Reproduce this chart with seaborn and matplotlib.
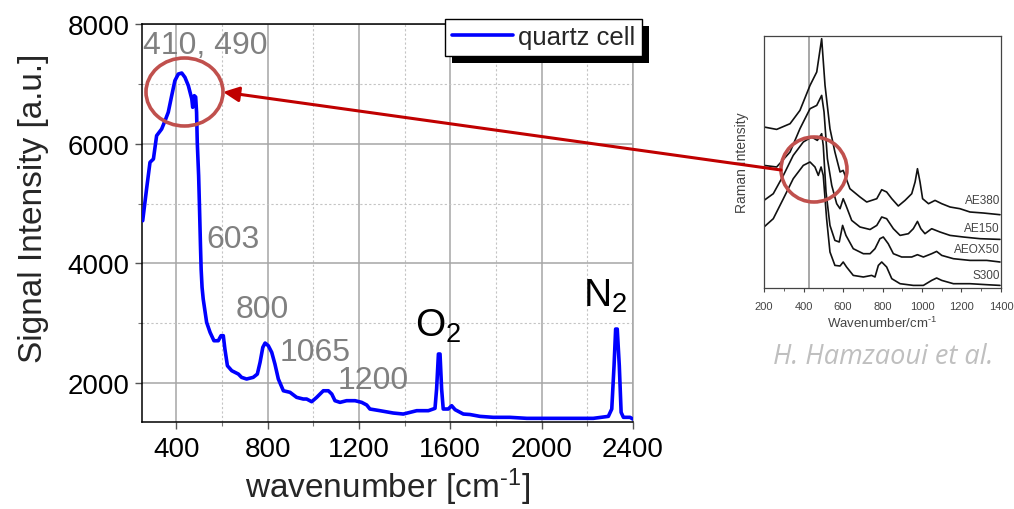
import numpy as np
import pandas as pd
import matplotlib
matplotlib.use("Agg")
import matplotlib.pyplot as plt
import seaborn as sns
from matplotlib.patches import Ellipse, FancyArrowPatch
import matplotlib.patheffects as pe
from matplotlib.ticker import MultipleLocator

sns.set_style("white")
plt.rcParams['font.family'] = ['Liberation Sans', 'DejaVu Sans']
plt.rcParams['mathtext.fontset'] = 'custom'
plt.rcParams['mathtext.rm'] = 'Liberation Sans'
plt.rcParams['mathtext.it'] = 'Liberation Sans:italic'
plt.rcParams['mathtext.bf'] = 'Liberation Sans:bold'
plt.rcParams['mathtext.sf'] = 'Liberation Sans'
plt.rcParams['mathtext.default'] = 'regular'

# ---------------- main spectrum (quartz cell) ----------------
wavenumber = [253, 270, 285, 300, 314, 336, 351, 365, 380, 394, 409, 424, 438, 453,
              468, 472, 479, 485, 489, 492, 498, 502, 506, 509, 513, 518, 533, 548,
              565, 584, 596, 606, 613, 624, 643, 672, 686, 708, 737, 755, 767, 779,
              789, 803, 818, 832, 847, 869, 898, 927, 956, 971, 993, 1015, 1044, 1066,
              1081, 1095, 1117, 1146, 1183, 1212, 1234, 1248, 1292, 1350, 1394, 1453,
              1504, 1533, 1540, 1548, 1555, 1562, 1569, 1591, 1606, 1621, 1657, 1686,
              1730, 1788, 1861, 1935, 2080, 2226, 2292, 2307, 2317, 2324, 2331, 2340,
              2348, 2358, 2387, 2399]
intensity = [4713, 5243, 5689, 5744, 6134, 6245, 6385, 6525, 6802, 7053, 7164, 7181, 7109, 6969,
             6747, 6608, 6802, 6780, 6525, 6023, 5465, 4900, 4300, 3900, 3600, 3405, 3015, 2848,
             2708, 2708, 2792, 2792, 2569, 2290, 2207, 2151, 2096, 2068, 2096, 2151, 2347, 2597,
             2669, 2625, 2514, 2319, 2068, 1872, 1846, 1762, 1734, 1734, 1689, 1762, 1872, 1872,
             1817, 1706, 1678, 1706, 1706, 1678, 1634, 1567, 1539, 1500, 1483, 1539,
             1539, 1578, 1901, 2486, 2486, 1901, 1567, 1567, 1622, 1556, 1483, 1475,
             1444, 1428, 1428, 1411, 1411, 1411, 1444, 1567, 2290, 2903, 2903, 2290,
             1511, 1428, 1428, 1400]
series_name = "quartz cell"
peak_labels = ["410, 490", "603", "800", "1065", "1200"]
gas_labels = ["O$_2$", "N$_2$"]
x_ticks = [400, 800, 1200, 1600, 2000, 2400]
y_ticks = [2000, 4000, 6000, 8000]

# ---------------- literature inset (H. Hamzaoui et al.) ----------------
ae380_x = [200, 264, 332, 382, 433, 467, 492, 509, 534, 559, 585, 601, 635, 686, 720,
           771, 796, 821, 847, 880, 914, 948, 965, 977, 990, 1003, 1033, 1066, 1100,
           1142, 1192, 1243, 1310, 1395]
ae380_y = [161, 158.6, 164.3, 177.6, 202.6, 216, 249.3, 202.6, 159.3, 136, 116, 117.6, 99.3, 91, 86,
           89.3, 98.3, 96, 89.3, 82, 87.6, 94.3, 106, 119.3, 106, 89.3, 84.3, 87.6, 84.3,
           81, 79.3, 76, 75, 73.3]
ae150_x = [200, 264, 332, 382, 433, 467, 492, 504, 521, 543, 568, 585, 601, 615, 644, 686,
           737, 771, 796, 821, 855, 889, 931, 956, 977, 994, 1015, 1049, 1091, 1142,
           1209, 1294, 1395]
ae150_y = [122.6, 121, 136, 159.3, 179.3, 182.6, 192.6, 176, 129.3, 102.6, 84.3, 79.3, 89.3, 82.6, 67.6, 61,
           58.5, 62.6, 71, 69.3, 59.3, 52.6, 54.3, 59.3, 66.6, 59.3, 54.3, 59.3, 56, 52.6,
           51, 49.3, 48.6]
aeox50_x = [200, 247, 298, 348, 399, 441, 470, 492, 500, 514, 534, 559, 581, 598, 615, 652,
            703, 737, 762, 787, 804, 829, 855, 897, 948, 977, 1007, 1049, 1074, 1100,
            1159, 1243, 1328, 1395]
aeox50_y = [87.6, 94.3, 112.6, 132.6, 146, 151, 147.6, 154.3, 142.6, 96, 62.6, 47.6, 46, 62.6, 52.6, 39.3,
            34.3, 34.3, 39.3, 49.3, 51, 44.3, 34.3, 31, 31, 33.3, 31, 34.3, 36.6, 32.6,
            29.3, 27.6, 27.6, 26]
s300_x = [200, 247, 298, 348, 399, 433, 458, 475, 489, 500, 517, 534, 559, 585, 601, 618,
          652, 703, 745, 762, 779, 796, 821, 847, 889, 956, 1007, 1049, 1074, 1100,
          1159, 1243, 1328, 1395]
s300_y = [61, 69.3, 89.3, 109.3, 122.6, 126, 121, 112.6, 121, 112.6, 69.3, 36, 22.6, 22, 26, 21,
          12.6, 11, 12.6, 11, 22.6, 26, 21, 9.3, 4.3, 2.6, 2.6, 7.6, 10, 7.6,
          4.3, 4.3, 3.3, 2.6]
inset_names = ["AE380", "AE150", "AEOX50", "S300"]
inset_marker_line = 430
inset_ticks = [200, 400, 600, 800, 1000, 1200, 1400]

inset_df = pd.concat([
    pd.DataFrame({"wn": ae380_x, "I": ae380_y, "sample": "AE380"}),
    pd.DataFrame({"wn": ae150_x, "I": ae150_y, "sample": "AE150"}),
    pd.DataFrame({"wn": aeox50_x, "I": aeox50_y, "sample": "AEOX50"}),
    pd.DataFrame({"wn": s300_x, "I": s300_y, "sample": "S300"}),
], ignore_index=True)

W, H = 1014, 510
fig = plt.figure(figsize=(W / 100, H / 100), dpi=100)
fig.patch.set_facecolor("white")

# ---------------- main axes ----------------
ax = fig.add_axes([142 / W, 1 - 423 / H, (633 - 142) / W, (423 - 25) / H])
ax.set_xlim(250, 2400)
ax.set_ylim(1350, 8000)
ax.xaxis.set_major_locator(MultipleLocator(400))
ax.xaxis.set_minor_locator(MultipleLocator(200))
ax.yaxis.set_major_locator(MultipleLocator(2000))
ax.yaxis.set_minor_locator(MultipleLocator(1000))
ax.set_xticks(x_ticks)
ax.set_yticks(y_ticks)
ax.grid(which="major", color="#a6a6a6", lw=1.1, ls="-")
ax.grid(which="minor", color="#c4c4c4", lw=0.8, ls=(0, (2, 2)))
ax.set_axisbelow(True)

sns.lineplot(x=wavenumber, y=intensity, ax=ax, color="#0000ff", lw=2.6,
             label=series_name, sort=False, estimator=None, zorder=3)

for s in ["left", "bottom", "top"]:
    ax.spines[s].set_color("black")
    ax.spines[s].set_linewidth(1.1)
ax.spines["right"].set_color("#a6a6a6")
ax.spines["right"].set_linewidth(1.1)
ax.tick_params(axis="both", which="major", direction="out", length=5, width=1,
               color="#555555", labelsize=20, labelcolor="black")
ax.tick_params(axis="x", which="major", pad=5)
ax.tick_params(axis="y", which="major", pad=4)
ax.tick_params(axis="both", which="minor", direction="out", length=3, width=0.8,
               color="#777777")
ax.tick_params(left=True, bottom=True, which="both")
ax.set_xlabel("wavenumber [cm$^{\\text{-1}}$]", fontsize=24)
ax.set_ylabel("Signal Intensity [a.u.]", fontsize=24)
ax.xaxis.set_label_coords(0.5, -0.11)
ax.yaxis.set_label_coords(-0.19, 0.54)

gray = "#808080"
pos_peaks = [(256, 7649), (530, 4407), (662, 3238), (854, 2519), (1108, 2051)]
for lab, (px, py) in zip(peak_labels, pos_peaks):
    ax.text(px, py, lab, color=gray, fontsize=23, ha="left", va="center", zorder=4)
for lab, (px, py) in zip(gas_labels, [(1445, 2787), (2180, 3288)]):
    ax.text(px, py, lab, color="black", fontsize=28, ha="left", va="baseline", zorder=4)

leg = ax.legend(loc="upper right", bbox_to_anchor=(642 / W, 1 - 20 / H),
                bbox_transform=fig.transFigure, fontsize=18.5, frameon=True,
                fancybox=False, framealpha=1, edgecolor="black",
                handlelength=2.4, handletextpad=0.2, borderpad=0.25,
                borderaxespad=0)
leg.get_frame().set_linewidth(1.0)
leg.get_frame().set_path_effects([pe.SimplePatchShadow(offset=(5, -5), shadow_rgbFace="black",
                                                        alpha=1.0), pe.Normal()])
for h in leg.get_lines():
    h.set_linewidth(2.6)

# ---------------- inset axes (literature) ----------------
ax2 = fig.add_axes([764 / W, 1 - 289 / H, (1001 - 764) / W, (289 - 37) / H])
ax2.axvline(inset_marker_line, color="#a0a0a0", lw=1.3, zorder=1)
sns.lineplot(data=inset_df, x="wn", y="I", hue="sample", ax=ax2,
             palette=["#111111"] * 4, lw=1.2, sort=False, estimator=None,
             legend=False, zorder=2)
ax2.set_xlim(200, 1400)
ax2.set_ylim(0, 252)
ax2.set_xticks(inset_ticks)
ax2.xaxis.set_minor_locator(MultipleLocator(100))
ax2.set_yticks([])
for s in ax2.spines.values():
    s.set_color("#444444")
    s.set_linewidth(0.9)
ax2.tick_params(axis="x", which="major", direction="out", length=3, width=0.8,
                color="#444444", labelsize=8, labelcolor="#444444", pad=6)
ax2.tick_params(axis="x", which="minor", direction="out", length=2, width=0.6,
                color="#444444")
ax2.tick_params(bottom=True, which="both")
ax2.set_xlabel("Wavenumber/cm$^{\\text{-1}}$", fontsize=9.5, color="#444444", labelpad=3)
ax2.set_ylabel("Raman Intensity", fontsize=10, color="#444444", labelpad=11)
label_y = [88, 60, 38.6, 13.3]
for name, yy in zip(inset_names, label_y):
    ax2.text(1395, yy, name, fontsize=8.5, color="#444444", ha="right", va="center")

fig.text(883 / W, 1 - 357 / H, "H. Hamzaoui et al.", fontsize=19.5, style="italic",
         color="#bfbfbf", family=["Open Sans", "DejaVu Sans"], ha="center", va="center")

# ---------------- overlay: circles and arrow ----------------
ov = fig.add_axes([0, 0, 1, 1], zorder=10)
ov.set_xlim(0, W)
ov.set_ylim(H, 0)
ov.axis("off")
ov.patch.set_alpha(0)
ring = "#c0504d"
ov.add_patch(Ellipse((184.5, 93), 77, 68, fill=False, ec=ring, lw=2.6))
ov.add_patch(Ellipse((814, 170.5), 66, 65, fill=False, ec=ring, lw=2.6))
ov.add_patch(FancyArrowPatch((781, 171), (223, 93),
                             arrowstyle="-|>,head_length=0.95,head_width=0.45",
                             mutation_scale=10, color="#c00000", lw=2.2,
                             shrinkA=0, shrinkB=0))

fig.savefig("out.png", dpi=100)
